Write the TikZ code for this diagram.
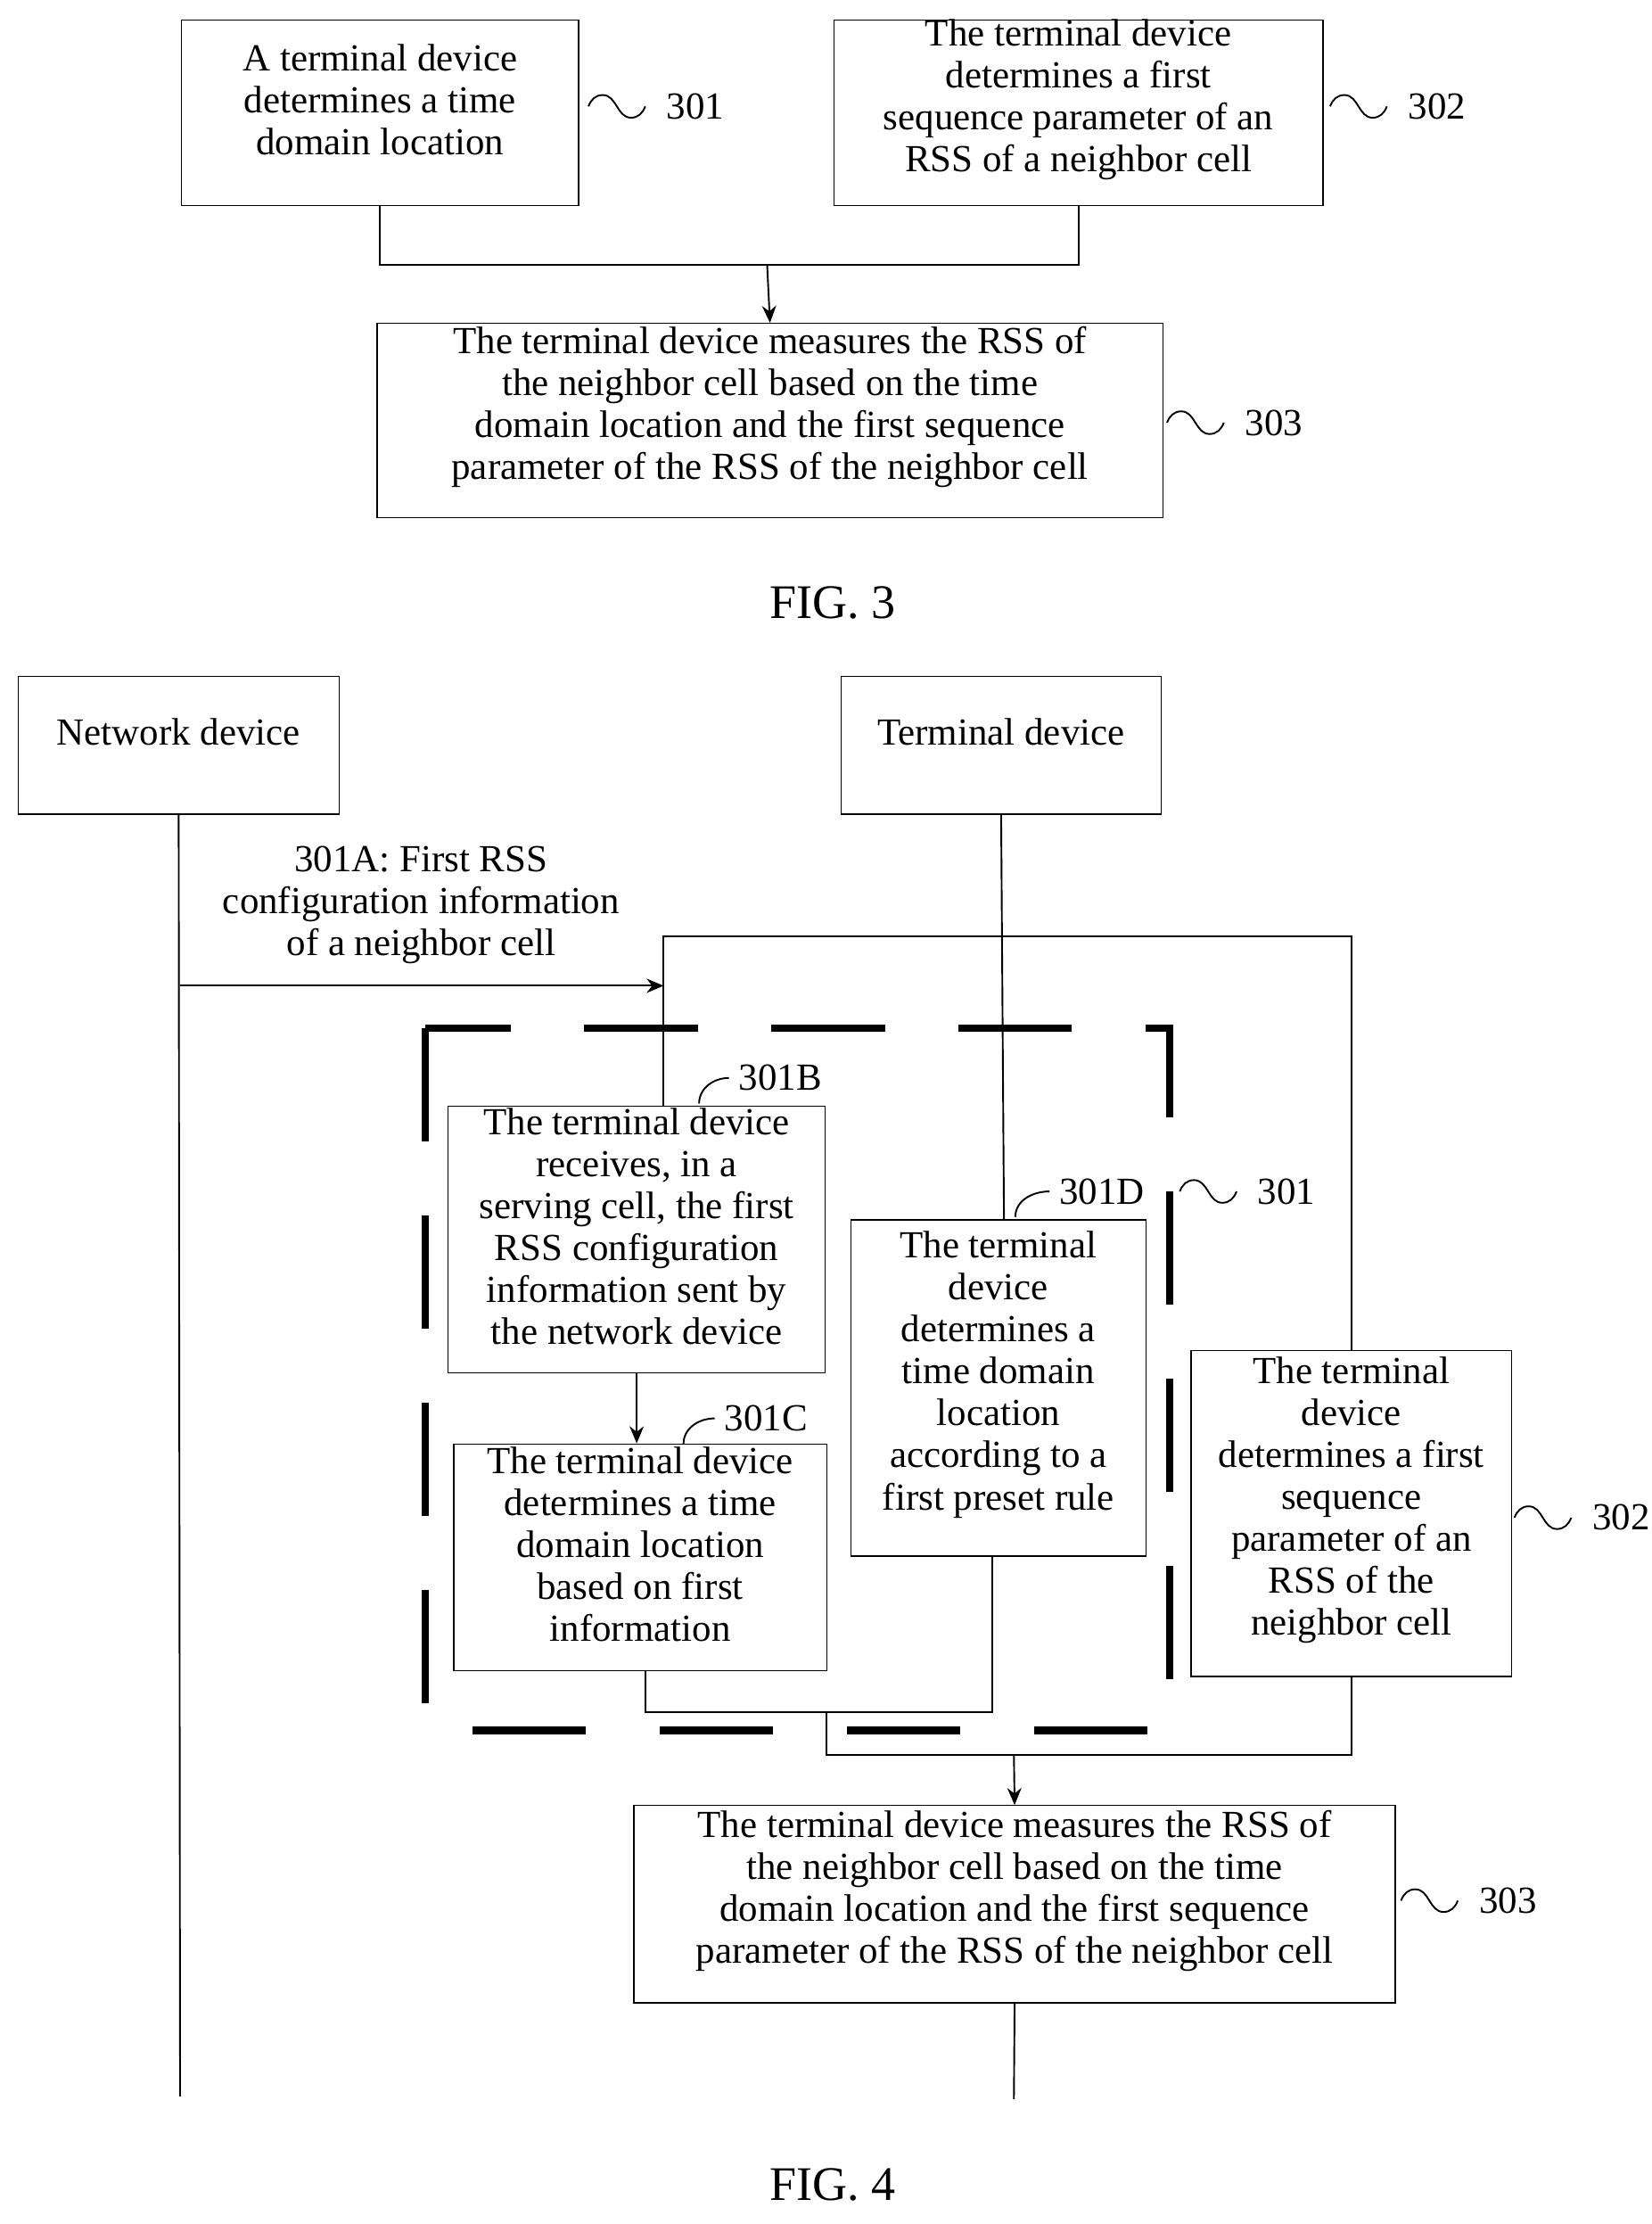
\documentclass[tikz,border=0pt]{standalone}
\usepackage{fontspec}
\setmainfont{Liberation Serif}
\usetikzlibrary{fit,arrows.meta}
\tikzset{
  box/.style={draw,inner sep=0pt,align=center,font=\fontsize{13.5}{14.8}\selectfont},
  lbl/.style={font=\fontsize{13.5}{14.8}\selectfont},
  conn/.style={line width=.6pt},
  arr/.style={conn,-{Stealth[length=6pt,width=5pt]}},
  dashbox/.style={line width=2.6pt,dash pattern=on 40pt off 26pt}
}
\newcommand{\squig}[3]{% x, y, label
  \draw[conn] (#1,#2) to[out=70,in=180] (#1+10,#2-8) to[out=0,in=180] (#1+30,#2+8) to[out=0,in=250] (#1+40,#2);
  \node[lbl,anchor=west] at (#1+48,#2) {#3};}
\begin{document}
\begin{tikzpicture}[x=0.5pt,y=-0.5pt]
\useasboundingbox (0,0) rectangle (1165,1568);
% FIG. 3
\node[box,fit={(128,14)(408,145)}] (a301) {A terminal device\\determines a time\\domain location};
\node[box,fit={(588,14)(933,145)}] (a302) {The terminal device\\determines a first\\sequence parameter of an\\RSS of a neighbor cell};
\node[box,fit={(266,228)(820,365)}] (a303) {The terminal device measures the RSS of\\the neighbor cell based on the time\\domain location and the first sequence\\parameter of the RSS of the neighbor cell};
\squig{415}{75}{301}
\squig{938}{75}{302}
\squig{823}{298}{303}
\coordinate (j3) at (541,187);
\draw[conn] (a301.south) |- (j3) -| (a302.south);
\draw[arr] (j3) -- (a303.north);
\node[font=\fontsize{17}{20}\selectfont] (fig3) at (587,425) {FIG. 3};
% FIG. 4
\node[box,fit={(13,477)(239,574)}] (net) {Network device};
\node[box,fit={(593,477)(819,574)}] (term) {Terminal device};
\coordinate (netend) at (127,1478);
\draw[conn] (net.south) -- (netend);
\coordinate (a301A) at (127,695);
\coordinate (b301A) at (468,695);
\draw[arr] (a301A) -- (b301A);
\node[lbl,align=center] (l301A) at (297,638) {301A: First RSS\\configuration information\\of a neighbor cell};
\draw[dashbox] (300,725) rectangle (825,1220);
\node[box,fit={(316,780)(582,968)}] (b301B) {The terminal device\\receives, in a\\serving cell, the first\\RSS configuration\\information sent by\\the network device};
\node[box,fit={(320,1018)(583,1178)}] (b301C) {The terminal device\\determines a time\\domain location\\based on first\\information};
\node[box,fit={(600,860)(808,1097)}] (b301D) {The terminal\\device\\determines a\\time domain\\location\\according to a\\first preset rule};
\node[box,fit={(840,952)(1066,1182)}] (b302) {The terminal\\device\\determines a first\\sequence\\parameter of an\\RSS of the\\neighbor cell};
\node[box,fit={(447,1273)(984,1412)}] (b303) {The terminal device measures the RSS of\\the neighbor cell based on the time\\domain location and the first sequence\\parameter of the RSS of the neighbor cell};
\draw[conn] (term.south) -- (708,860);
\draw[conn] (468,780) |- (953,660) -- (b302.north);
\draw[arr] (b301B.south) -- (b301B.south|-b301C.north);
\coordinate (j1) at (583,1207);
\draw[conn] (455,1178) |- (700,1207) -- (700,1097);
\coordinate (j2) at (715,1237);
\draw[conn] (j1) |- (953,1237) -- (953,1182);
\draw[arr] (j2) -- (b303.north);
\coordinate (tend) at (715,1480);
\draw[conn] (b303.south) -- (tend);
% labels
\node[lbl,anchor=west] (n301B) at (514,760) {301B};
\draw[conn] (493,778) to[out=90,in=180] (n301B.west);
\node[lbl,anchor=west] (n301C) at (504,1000) {301C};
\draw[conn] (482,1018) to[out=90,in=180] (n301C.west);
\node[lbl,anchor=west] (n301D) at (740,840) {301D};
\draw[conn] (716,858) to[out=90,in=180] (n301D.west);
\squig{832}{840}{301}
\squig{1068}{1070}{302}
\squig{988}{1340}{303}
\node[font=\fontsize{17}{20}\selectfont] (fig4) at (587,1540) {FIG. 4};
\end{tikzpicture}
\end{document}
